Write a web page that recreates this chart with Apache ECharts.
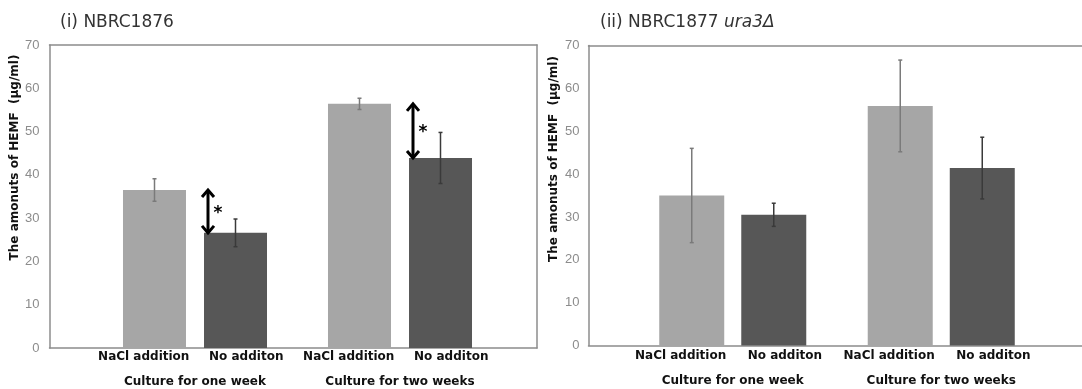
<!DOCTYPE html>
<html>
<head>
<meta charset="utf-8">
<script src="https://cdn.jsdelivr.net/npm/echarts@6/dist/echarts.min.js"></script>
<style>
  html, body { margin: 0; padding: 0; background: #fff; }
  #chart { width: 1082px; height: 389px; }
</style>
</head>
<body>
<div id="chart"></div>
<script>
// data
const groups = ["Culture for one week", "Culture for two weeks"];
const treatments = ["NaCl addition", "No additon"];
const yMin = 0, yMax = 70, yStep = 10;

// (i) NBRC1876
const p1Nacl = [36.5, 56.4];
const p1NaclErr = [2.6, 1.3];
const p1None = [26.6, 43.9];
const p1NoneErr = [3.2, 5.9];
const p1Signif = [0, 1]; // groups marked with *

// (ii) NBRC1877 ura3Δ
const p2Nacl = [35.0, 55.9];
const p2NaclErr = [11.0, 10.7];
const p2None = [30.5, 41.4];
const p2NoneErr = [2.7, 7.2];
const p2Signif = [];

const subLabels = groups.flatMap(() => treatments);
const colNacl = "#a6a6a6";
const colNone = "#575757";
const boldFont = "DejaVu Sans";
const frameStyle = { color: "#8c8c8c", width: 1.5 };
const frame = { show: true, onZero: false, lineStyle: frameStyle };

const chart = echarts.init(document.getElementById("chart"));

const grid = [];
const xAxis = [];
const yAxis = [];
const series = [];

// builds one panel: outer frame grid + inner grid holding the bars
function addPanel(cfg) {
  const g = grid.length;
  grid.push({
    left: cfg.boxLeft, right: cfg.boxRight, top: cfg.top, bottom: cfg.bottom,
    outerBoundsMode: "none",
  });
  grid.push({
    left: cfg.innerLeft, right: cfg.innerRight, top: cfg.top, bottom: cfg.bottom,
    outerBoundsMode: "none",
  });
  // frame: bottom + top lines
  ["bottom", "top"].forEach((pos) => {
    xAxis.push({ gridIndex: g, type: "value", min: 0, max: 1, position: pos,
      axisLine: frame, axisTick: { show: false }, axisLabel: { show: false },
      splitLine: { show: false } });
  });
  const xa = xAxis.length;
  xAxis.push({
    gridIndex: g + 1, type: "category", data: groups, position: "bottom",
    axisLine: { show: false }, axisTick: { show: false },
    axisLabel: { interval: 0, margin: cfg.groupMargin, fontFamily: boldFont,
      fontWeight: "bold", fontSize: 12, color: "#111" },
  });
  xAxis.push({
    gridIndex: g + 1, type: "category", data: subLabels, position: "bottom",
    axisLine: { show: false }, axisTick: { show: false },
    axisLabel: { interval: 0, margin: cfg.subMargin, fontFamily: boldFont,
      fontWeight: "bold", fontSize: 12, color: "#111" },
  });
  yAxis.push({
    gridIndex: g, type: "value", min: yMin, max: yMax, interval: yStep,
    position: "left",
    name: "The amonuts of HEMF  (\u03bcg/ml)", nameLocation: "middle",
    nameGap: cfg.nameGap,
    nameTextStyle: { fontFamily: boldFont, fontWeight: "bold", fontSize: 12,
      color: "#111", padding: [0, 0, 0, cfg.namePad] },
    axisLine: frame, axisTick: { show: false },
    splitLine: { show: false },
    axisLabel: { color: "#8c8c8c", fontSize: 13, fontFamily: "Liberation Sans",
      margin: cfg.labelMargin },
  });
  yAxis.push({
    gridIndex: g, type: "value", min: yMin, max: yMax, position: "right",
    axisLine: { show: cfg.rightEdge, onZero: false, lineStyle: frameStyle },
    axisTick: { show: false }, axisLabel: { show: false }, splitLine: { show: false },
  });
  const ya = yAxis.length;
  yAxis.push({ gridIndex: g + 1, type: "value", min: yMin, max: yMax,
    interval: yStep, show: false });

  const off = (cfg.barWidth + cfg.gap) / 2;
  const gapPct = (cfg.gap / cfg.barWidth * 100).toFixed(1) + "%";
  const bars = [
    { name: treatments[0], vals: cfg.nacl, err: cfg.naclErr, color: colNacl, ec: "#7a7a7a", dx: -off },
    { name: treatments[1], vals: cfg.none, err: cfg.noneErr, color: colNone, ec: "#3a3a3a", dx: off },
  ];
  bars.forEach((b) => {
    series.push({
      name: b.name, type: "bar", xAxisIndex: xa, yAxisIndex: ya,
      data: b.vals, barWidth: cfg.barWidth, barGap: gapPct,
      itemStyle: { color: b.color }, silent: true,
    });
  });
  bars.forEach((b) => {
    series.push({
      type: "custom", xAxisIndex: xa, yAxisIndex: ya, z: 5, silent: true,
      data: b.vals.map((v, i) => [i, v - b.err[i], v + b.err[i]]),
      encode: { x: 0, y: [1, 2] },
      renderItem: (params, api) => {
        const x = api.coord([api.value(0), 0])[0] + b.dx;
        const y1 = api.coord([api.value(0), api.value(1)])[1];
        const y2 = api.coord([api.value(0), api.value(2)])[1];
        const st = { stroke: b.ec, lineWidth: 1.5 };
        return {
          type: "group",
          children: [
            { type: "line", shape: { x1: x, y1: y1, x2: x, y2: y2 }, style: st },
            { type: "line", shape: { x1: x - 2, y1: y1, x2: x + 2, y2: y1 }, style: st },
            { type: "line", shape: { x1: x - 2, y1: y2, x2: x + 2, y2: y2 }, style: st },
          ],
        };
      },
    });
  });
  if (cfg.signif.length) {
    series.push({
      type: "custom", xAxisIndex: xa, yAxisIndex: ya, z: 6, silent: true,
      data: cfg.signif.map((i) => [i, cfg.nacl[i], cfg.none[i]]),
      encode: { x: 0, y: [1, 2] },
      renderItem: (params, api) => {
        const x = api.coord([api.value(0), 0])[0] + off - cfg.barWidth / 2 + 4;
        const y1 = api.coord([api.value(0), api.value(1)])[1] - 1;
        const y2 = api.coord([api.value(0), api.value(2)])[1] + 1;
        const st = { stroke: "#000", lineWidth: 3, fill: null, lineJoin: "miter" };
        return {
          type: "group",
          children: [
            { type: "line", shape: { x1: x, y1: y1 + 2, x2: x, y2: y2 - 2 }, style: st },
            { type: "polyline", shape: { points: [[x - 6, y1 + 8], [x, y1 + 1], [x + 6, y1 + 8]] }, style: st },
            { type: "polyline", shape: { points: [[x - 6, y2 - 8], [x, y2 - 1], [x + 6, y2 - 8]] }, style: st },
            { type: "text", style: { text: "*", x: x + 10, y: (y1 + y2) / 2 + 2,
              align: "center", verticalAlign: "middle", fontSize: 17,
              fontWeight: "bold", fontFamily: boldFont, fill: "#000" } },
          ],
        };
      },
    });
  }
}

addPanel({
  boxLeft: 49.5, boxRight: 1082 - 537, top: 45, bottom: 389 - 348, rightEdge: true,
  innerLeft: 92.5, innerRight: 1082 - 502.5,
  barWidth: 63, gap: 18, groupMargin: 28, subMargin: 3,
  nameGap: 27, namePad: 78, labelMargin: 10,
  nacl: p1Nacl, naclErr: p1NaclErr, none: p1None, noneErr: p1NoneErr,
  signif: p1Signif,
});
addPanel({
  boxLeft: 588.5, boxRight: 0, top: 45.5, bottom: 389 - 345.5, rightEdge: false,
  innerLeft: 628.5, innerRight: 1082 - 1045.5,
  barWidth: 65, gap: 17, groupMargin: 29.5, subMargin: 4.5,
  nameGap: 29, namePad: 73, labelMargin: 9,
  nacl: p2Nacl, naclErr: p2NaclErr, none: p2None, noneErr: p2NoneErr,
  signif: p2Signif,
});

const option = {
  animation: false,
  title: [
    {
      text: "(i) NBRC1876", left: 55, top: 9,
      textStyle: { fontFamily: boldFont, fontWeight: "normal", fontSize: 17, color: "#333" },
    },
    {
      text: "(ii) NBRC1877 {it|ura3\u0394}", left: 595, top: 9,
      textStyle: {
        fontFamily: boldFont, fontWeight: "normal", fontSize: 17, color: "#333",
        rich: { it: { fontFamily: boldFont, fontStyle: "italic", fontSize: 17, color: "#333" } },
      },
    },
  ],
  grid: grid,
  xAxis: xAxis,
  yAxis: yAxis,
  series: series,
};
chart.setOption(option);
</script>
</body>
</html>
